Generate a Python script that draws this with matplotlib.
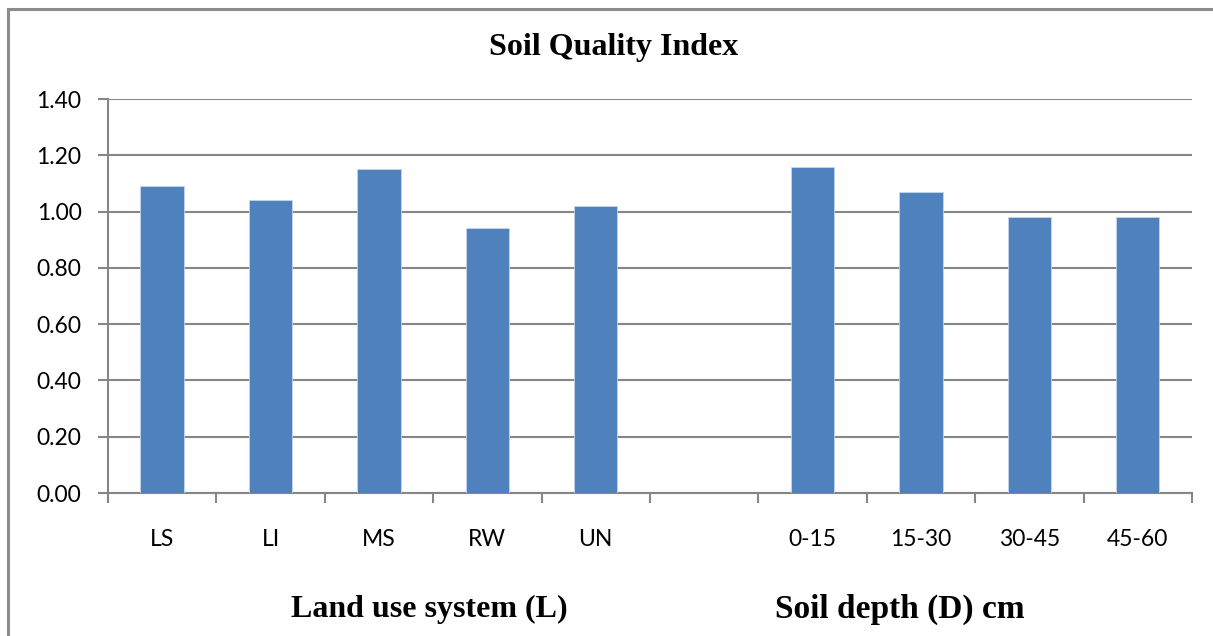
import matplotlib.pyplot as plt
import numpy as np

# soil quality index by land use system and by depth
categories = ['LS', 'LI', 'MS', 'RW', 'UN', '', '0-15', '15-30', '30-45', '45-60']
sqi = [1.09, 1.04, 1.15, 0.94, 1.02, np.nan, 1.16, 1.07, 0.98, 0.98]
group_titles = ['Land use system (L)', 'Soil depth (D) cm']
yticks = [0.0, 0.2, 0.4, 0.6, 0.8, 1.0, 1.2, 1.4]

fig = plt.figure(figsize=(12.13, 6.36), dpi=100)
ax = fig.add_axes([0.089, 0.2248, 0.8937, 0.6195])

x = np.arange(len(categories))
ax.bar(x, sqi, width=0.4, color='#4F81BD', edgecolor='#c6d6ea', linewidth=0.6, zorder=3)

ax.set_xlim(-0.5, len(categories) - 0.5)
ax.set_ylim(0, 1.4)
ax.set_yticks(yticks)
ax.set_yticklabels(['%.2f' % v for v in yticks], fontsize=16.5, family='Lato')
ax.yaxis.grid(True, color='#868686', linewidth=1.5, zorder=0)

# category names sit between boundary ticks
ax.set_xticks(np.arange(len(categories) + 1) - 0.5)
ax.set_xticklabels([])
ax.set_xticks(x, minor=True)
ax.set_xticklabels(categories, minor=True, fontsize=16.5, family='Lato')
ax.tick_params(axis='x', which='minor', length=0, pad=26)
ax.tick_params(axis='x', which='major', length=7, width=1.5, color='#868686')
ax.tick_params(axis='y', length=7, width=1.5, color='#868686', pad=12)

for side in ['top', 'right']:
    ax.spines[side].set_visible(False)
for side in ['left', 'bottom']:
    ax.spines[side].set_color('#868686')
    ax.spines[side].set_linewidth(1.5)

fig.text(0.506, 0.925, 'Soil Quality Index', ha='center', va='center',
         fontsize=23, fontweight='bold', family='Liberation Serif')
fig.text(0.354, 0.042, group_titles[0], ha='center', va='center',
         fontsize=23, fontweight='bold', family='Liberation Serif')
fig.text(0.742, 0.042, group_titles[1], ha='center', va='center',
         fontsize=24, fontweight='bold', family='Liberation Serif')

# outer frame (top and left edges)
fig.add_artist(plt.Line2D([0.0066, 1.0], [0.9866, 0.9866], color='#8c8c8c', linewidth=2.2,
                          transform=fig.transFigure))
fig.add_artist(plt.Line2D([0.0066, 0.0066], [0.0, 0.9866], color='#8c8c8c', linewidth=2.2,
                          transform=fig.transFigure))

fig.savefig('out.png', dpi=100)
